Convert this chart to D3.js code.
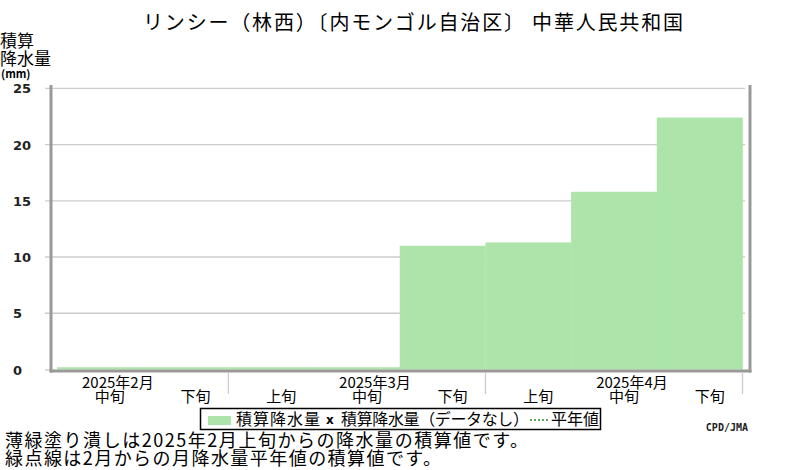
<!DOCTYPE html>
<html>
<head>
<meta charset="utf-8">
<script src="https://cdn.jsdelivr.net/npm/d3@7"></script>
<style>
  body { margin: 0; background: #fff; }
  svg { display: block; font-family: "Noto Sans CJK JP", sans-serif; }
</style>
</head>
<body>
<svg width="800" height="470"></svg>
<script>
// dekads shown on the x axis (Feb 中旬 .. Apr 下旬)
const dekads = ["2月中旬", "2月下旬", "3月上旬", "3月中旬", "3月下旬", "4月上旬", "4月中旬", "4月下旬"];
const dekadLabels = ["中旬", "下旬", "上旬", "中旬", "下旬", "上旬", "中旬", "下旬"];
const monthLabels = [{at: "2月中旬", text: "2025年2月"}, {at: "3月中旬", text: "2025年3月"}, {at: "4月中旬", text: "2025年4月"}];
const monthEnds = ["2月下旬", "3月下旬", "4月下旬"];
// accumulated precipitation (mm)
const accum = [0.2, 0.2, 0.2, 0.2, 11.0, 11.3, 15.8, 22.4];
const yTicks = [0, 5, 10, 15, 20, 25];

const svg = d3.select("svg");
const plot = {left: 51, right: 750, top: 85, bottom: 371};

const x = d3.scaleBand().domain(dekads).range([57, 742.5]);
const y = d3.scaleLinear().domain([0, 25]).range([369.5, 88.3]);

// title
svg.append("text")
  .attr("x", 143).attr("y", 30)
  .attr("textLength", 540).attr("lengthAdjust", "spacing")
  .style("font-size", "20px")
  .text("リンシー（林西）〔内モンゴル自治区〕 中華人民共和国");

// y axis title
svg.append("text").attr("x", 0).attr("y", 47).style("font-size", "17px").text("積算");
svg.append("text").attr("x", 0).attr("y", 65).style("font-size", "17px").text("降水量");
svg.append("text").attr("x", 1).attr("y", 78)
  .style("font-size", "11px").style("font-weight", "bold").text("(mm)");

// gridlines
svg.append("g")
  .selectAll("line")
  .data(yTicks.filter(d => d > 0))
  .join("line")
    .attr("x1", 45).attr("x2", 745)
    .attr("y1", d => y(d)).attr("y2", d => y(d))
    .attr("stroke", "#cccccc").attr("stroke-width", 1.3);

// tick at zero
svg.append("line")
  .attr("x1", 45).attr("x2", 51).attr("y1", 370).attr("y2", 370)
  .attr("stroke", "#cccccc").attr("stroke-width", 1.3);

// y tick labels
svg.append("g")
  .selectAll("text")
  .data(yTicks)
  .join("text")
    .attr("x", 13)
    .attr("y", d => y(d) + 5)
    .style("font-size", "13px")
    .style("font-weight", "bold")
    .style("font-family", "'DejaVu Sans', sans-serif")
    .attr("fill", "#222")
    .text(d => d);

// bars
svg.append("g")
  .selectAll("rect")
  .data(accum)
  .join("rect")
    .attr("x", (d, i) => x(dekads[i]))
    .attr("y", d => y(d))
    .attr("width", x.bandwidth() + 0.3)
    .attr("height", d => y(0) - y(d))
    .attr("fill", "#ace4aa");

// frame
const frame = svg.append("g").attr("stroke", "#999999").attr("stroke-width", 3).attr("fill", "none");
frame.append("line").attr("x1", plot.left).attr("x2", plot.left).attr("y1", plot.top).attr("y2", plot.bottom + 1.5);
frame.append("line").attr("x1", plot.right).attr("x2", plot.right).attr("y1", plot.top).attr("y2", plot.bottom + 1.5);
frame.append("line").attr("x1", plot.left - 1.5).attr("x2", plot.right + 1.5).attr("y1", plot.bottom).attr("y2", plot.bottom);

// month separators below the axis
svg.append("g")
  .selectAll("line")
  .data(monthEnds)
  .join("line")
    .attr("x1", d => x(d) + x.bandwidth()).attr("x2", d => x(d) + x.bandwidth())
    .attr("y1", 373).attr("y2", 394)
    .attr("stroke", "#cccccc").attr("stroke-width", 1.3);

// x labels
svg.append("g")
  .selectAll("text")
  .data(monthLabels)
  .join("text")
    .attr("x", d => x(d.at) + x.bandwidth() / 2 + 18)
    .attr("y", 388)
    .attr("text-anchor", "middle")
    .style("font-size", "15px")
    .text(d => d.text);

svg.append("g")
  .selectAll("text")
  .data(dekadLabels)
  .join("text")
    .attr("x", (d, i) => x(dekads[i]) + x.bandwidth() / 2 + 10)
    .attr("y", 402)
    .attr("text-anchor", "middle")
    .style("font-size", "15px")
    .text(d => d);

// legend
const legend = svg.append("g");
legend.append("rect")
  .attr("x", 200.5).attr("y", 408.5).attr("width", 400).attr("height", 21)
  .attr("fill", "#fff").attr("stroke", "#000").attr("stroke-width", 1.5);
legend.append("rect")
  .attr("x", 208).attr("y", 416).attr("width", 23).attr("height", 9)
  .attr("fill", "#ace4aa");
legend.append("text").attr("x", 236).attr("y", 425)
  .attr("textLength", 84).attr("lengthAdjust", "spacing")
  .style("font-size", "16px").text("積算降水量");
legend.append("text").attr("x", 326).attr("y", 424)
  .style("font-size", "12px").style("font-weight", "bold")
  .style("font-family", "'DejaVu Sans', sans-serif").text("x");
legend.append("text").attr("x", 341).attr("y", 425)
  .attr("textLength", 188).attr("lengthAdjust", "spacing")
  .style("font-size", "16px").text("積算降水量（データなし）");
legend.append("line")
  .attr("x1", 530).attr("x2", 548).attr("y1", 420).attr("y2", 420)
  .attr("stroke", "#2a8a2a").attr("stroke-width", 1.5).attr("stroke-dasharray", "2,2");
legend.append("text").attr("x", 551).attr("y", 425).style("font-size", "16px").text("平年値");

// source
svg.append("text")
  .attr("x", 748).attr("y", 431)
  .attr("text-anchor", "end")
  .style("font-size", "10px").style("font-weight", "bold")
  .style("font-family", "'DejaVu Sans Mono', monospace")
  .attr("fill", "#222")
  .text("CPD/JMA");

// notes
svg.append("text").attr("x", 5).attr("y", 447)
  .attr("textLength", 523).attr("lengthAdjust", "spacing")
  .style("font-size", "18px")
  .text("薄緑塗り潰しは2025年2月上旬からの降水量の積算値です。");
svg.append("text").attr("x", 5).attr("y", 465)
  .attr("textLength", 436).attr("lengthAdjust", "spacing")
  .style("font-size", "18px")
  .text("緑点線は2月からの月降水量平年値の積算値です。");
</script>
</body>
</html>
